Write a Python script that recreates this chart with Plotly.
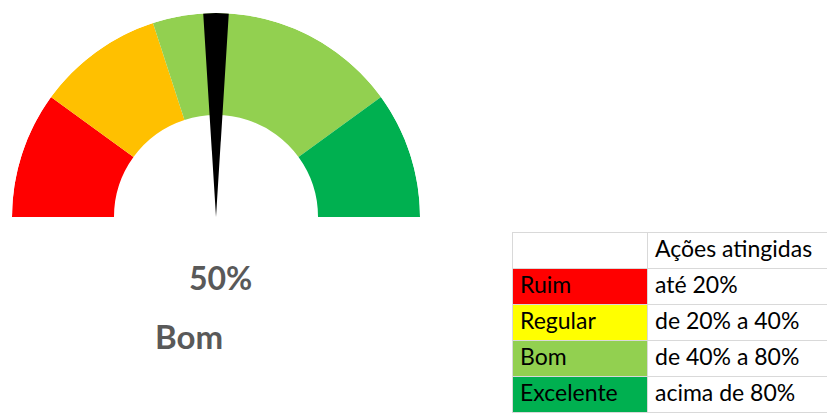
import plotly.graph_objects as go

# ---- data ----
categories = ["Ruim", "Regular", "Bom", "Excelente"]
limits = [0, 20, 40, 80, 100]
gauge_colors = ["#FF0000", "#FFC000", "#92D050", "#00B050"]
table_colors = ["#FF0000", "#FFFF00", "#92D050", "#00B050"]
ranges_text = ["até 20%", "de 20% a 40%", "de 40% a 80%", "acima de 80%"]
value = 50
value_label = "Bom"
needle_width = 4  # in percent of the half circle

W, H = 827, 413

def pct_to_deg(p):
    return 180 - p * 1.8

fig = go.Figure()

# gauge ring
for i, cat in enumerate(categories):
    lo, hi = limits[i], limits[i + 1]
    fig.add_trace(go.Barpolar(
        r=[0.5], base=[0.5],
        theta=[pct_to_deg((lo + hi) / 2)],
        width=[(hi - lo) * 1.8],
        marker=dict(color=gauge_colors[i], line=dict(width=0)),
        hoverinfo="skip", showlegend=False, name=cat,
    ))

# needle
fig.add_trace(go.Barpolar(
    r=[1], base=[0],
    theta=[pct_to_deg(value)],
    width=[needle_width * 1.8],
    marker=dict(color="black", line=dict(width=0)),
    hoverinfo="skip", showlegend=False,
))

fig.update_layout(
    width=W, height=H,
    margin=dict(l=0, r=0, t=0, b=0),
    paper_bgcolor="white", plot_bgcolor="white",
    polar=dict(
        domain=dict(x=[12 / W, 420 / W], y=[196 / H, 400 / H]),
        sector=[0, 180],
        bgcolor="rgba(0,0,0,0)",
        radialaxis=dict(range=[0, 1], visible=False, showgrid=False),
        angularaxis=dict(visible=False, showgrid=False, direction="counterclockwise", rotation=0),
        barmode="overlay",
    ),
)

# table
fig.add_trace(go.Table(
    domain=dict(x=[512 / W, 1], y=[0, 181 / H]),
    columnwidth=[135, 180],
    header=dict(
        values=["", "Ações atingidas"],
        fill_color="white",
        line=dict(color="#d9d9d9", width=1),
        align="left",
        font=dict(family="Lato", size=23, color="black"),
        height=36,
    ),
    cells=dict(
        values=[categories, ranges_text],
        fill_color=[table_colors, ["white"] * len(categories)],
        line=dict(color="#d9d9d9", width=1),
        align="left",
        font=dict(family="Lato", size=23, color="black"),
        height=36,
    ),
))

fig.add_annotation(text=f"{value}%", x=220.5 / W, y=1 - 277 / H, xref="paper", yref="paper",
                   showarrow=False, xanchor="center", yanchor="middle",
                   font=dict(family="Lato", size=32, color="#595959", weight="bold"))
fig.add_annotation(text=value_label, x=188.5 / W, y=1 - 336 / H, xref="paper", yref="paper",
                   showarrow=False, xanchor="center", yanchor="middle",
                   font=dict(family="Lato", size=33, color="#595959", weight="bold"))

fig.write_html("out.html", config={"displayModeBar": False},
               post_script="document.body.style.margin='0px';")
